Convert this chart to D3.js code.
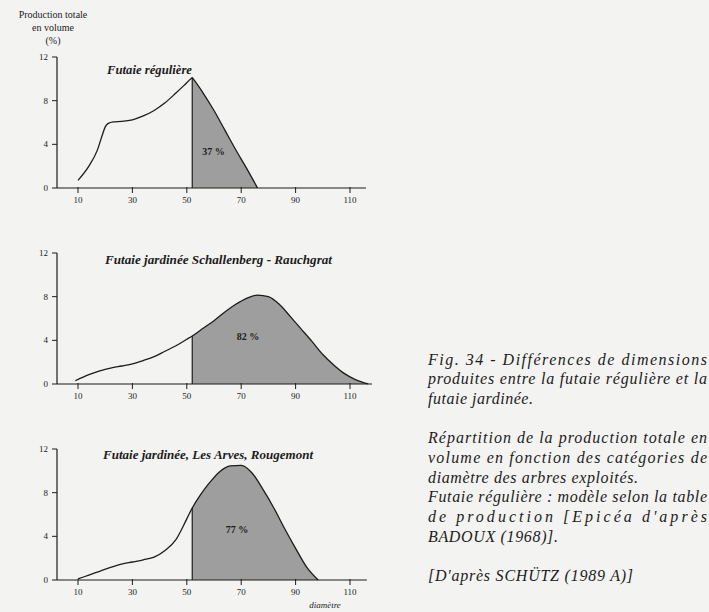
<!DOCTYPE html>
<html>
<head>
<meta charset="utf-8">
<script src="https://cdn.jsdelivr.net/npm/d3@7"></script>
<style>
body { margin: 0; background: #f3f3f1; }
svg text { font-family: "Liberation Serif", "Times New Roman", serif; fill: #1c1c1c; }
</style>
</head>
<body>
<div id="chart"></div>
<script>
// diameter classes (cm) and share of total volume production (%)
var diamReg = [10, 14, 17, 19, 20, 21, 23, 26, 30, 34, 38, 42, 46, 49, 51.5, 52, 52.5, 56, 60, 64, 68, 72, 76];
var prodReg = [0.7, 2.0, 3.4, 4.9, 5.6, 5.9, 6.05, 6.1, 6.25, 6.6, 7.1, 7.8, 8.7, 9.4, 10.0, 10.1, 9.95, 8.7, 7.1, 5.3, 3.5, 1.8, 0];

var diamSch = [9, 14, 18, 22, 26, 30, 34, 38, 42, 46, 50, 52, 56, 60, 64, 68, 72, 76, 80, 84, 88, 92, 96, 100, 104, 108, 112, 116.7];
var prodSch = [0.3, 0.85, 1.2, 1.45, 1.65, 1.85, 2.15, 2.5, 3.0, 3.5, 4.1, 4.4, 5.1, 5.8, 6.6, 7.3, 7.85, 8.15, 8.0, 7.3, 6.2, 5.05, 3.9, 2.7, 1.75, 0.95, 0.4, 0];

var diamArv = [10, 14, 18, 22, 26, 30, 34, 38, 42, 46, 50, 52, 55, 58, 62, 66, 70, 74, 78, 82, 86, 90, 94, 98.3];
var prodArv = [0.1, 0.45, 0.8, 1.15, 1.45, 1.65, 1.85, 2.1, 2.7, 3.7, 5.6, 6.6, 7.8, 8.8, 9.9, 10.45, 10.5, 9.8, 8.3, 6.6, 4.7, 2.9, 1.2, 0];

var titles = ["Futaie régulière", "Futaie jardinée Schallenberg - Rauchgrat", "Futaie jardinée, Les Arves, Rougemont"];
var shares = ["37 %", "82 %", "77 %"];
var cutDiam = 52;
var xTicks = [10, 30, 50, 70, 90, 110];
var yTicks = [0, 4, 8, 12];
var yTitle = ["Production totale", "en volume", "(%)"];
var xTitle = "diamètre";

var captionLines = [
  "Fig. 34 - Différences de dimensions",
  "produites entre la futaie régulière et la",
  "futaie jardinée.",
  "",
  "Répartition de la production totale en",
  "volume en fonction des catégories de",
  "diamètre des arbres exploités.",
  "Futaie régulière : modèle selon la table",
  "de production [Epicéa d'après",
  "BADOUX (1968)].",
  "",
  "[D'après SCHÜTZ (1989 A)]"
];

var series = [
  {d: diamReg, v: prodReg},
  {d: diamSch, v: prodSch},
  {d: diamArv, v: prodArv}
];

// layout
var W = 709, H = 612;
var axisX = 57;
var panelTop = [57, 253, 449];
var panelH = 131;
var axisEnd = [115.9, 118.1, 116.2];
var titlePos = [[107, 74, 85], [105, 264, 227], [103, 459, 210]];
var sharePos = [[59.8, 3.0], [72.5, 4.0], [68.5, 4.3]];

var svg = d3.select("#chart").append("svg")
    .attr("width", W)
    .attr("height", H);

svg.append("rect").attr("width", W).attr("height", H).attr("fill", "#f3f3f1");

var x = d3.scaleLinear().domain([10, 110]).range([78, 350]);

// y axis title
svg.append("g").selectAll("text")
    .data(yTitle)
    .enter().append("text")
    .attr("x", 53)
    .attr("y", function(d, i) { return 18 + i * 13; })
    .attr("text-anchor", "middle")
    .style("font-size", "10px")
    .text(function(d) { return d; });

series.forEach(function(s, p) {
    var y = d3.scaleLinear().domain([0, 12]).range([panelTop[p] + panelH, panelTop[p]]);
    var g = svg.append("g");
    var pts = s.d.map(function(d, i) { return [d, s.v[i]]; });

    var clipId = "clip" + p;
    svg.append("clipPath").attr("id", clipId)
      .append("rect")
        .attr("x", x(cutDiam))
        .attr("y", y(12.5))
        .attr("width", x(125) - x(cutDiam))
        .attr("height", y(0) - y(12.5));

    var area = d3.area()
        .x(function(d) { return x(d[0]); })
        .y0(y(0))
        .y1(function(d) { return y(d[1]); })
        .curve(d3.curveMonotoneX);

    g.append("path")
        .attr("d", area(pts))
        .attr("clip-path", "url(#" + clipId + ")")
        .attr("fill", "#9e9e9e");

    var cutVal = s.v[s.d.indexOf(cutDiam)];
    g.append("line")
        .attr("x1", x(cutDiam)).attr("x2", x(cutDiam))
        .attr("y1", y(0)).attr("y2", y(cutVal))
        .attr("stroke", "#1c1c1c")
        .attr("stroke-width", 1.2);

    var line = d3.line()
        .x(function(d) { return x(d[0]); })
        .y(function(d) { return y(d[1]); })
        .curve(d3.curveMonotoneX);

    g.append("path")
        .attr("d", line(pts))
        .attr("fill", "none")
        .attr("stroke", "#1c1c1c")
        .attr("stroke-width", 1.3);

    // x axis
    var xa = g.append("g").attr("transform", "translate(0," + y(0) + ")");
    xa.append("line")
        .attr("x1", axisX).attr("x2", x(axisEnd[p]))
        .attr("stroke", "#1c1c1c").attr("stroke-width", 1.2);
    var xt = xa.selectAll(".xt").data(xTicks).enter().append("g")
        .attr("transform", function(d) { return "translate(" + x(d) + ",0)"; });
    xt.append("line").attr("y1", -1).attr("y2", 5).attr("stroke", "#1c1c1c").attr("stroke-width", 1);
    xt.append("text").attr("y", 15).attr("text-anchor", "middle")
        .style("font-size", "9px")
        .text(function(d) { return d; });

    // y axis
    var ya = g.append("g").attr("transform", "translate(" + axisX + ",0)");
    ya.append("line")
        .attr("y1", y(0)).attr("y2", y(12))
        .attr("stroke", "#1c1c1c").attr("stroke-width", 1.2);
    var yt = ya.selectAll(".yt").data(yTicks).enter().append("g")
        .attr("transform", function(d) { return "translate(0," + y(d) + ")"; });
    yt.append("line").attr("x1", -5).attr("x2", 0).attr("stroke", "#1c1c1c").attr("stroke-width", 1);
    yt.append("text").attr("x", -9).attr("y", 3).attr("text-anchor", "end")
        .style("font-size", "9px")
        .text(function(d) { return d; });

    // panel title
    g.append("text")
        .attr("x", titlePos[p][0]).attr("y", titlePos[p][1])
        .attr("textLength", titlePos[p][2])
        .attr("lengthAdjust", "spacingAndGlyphs")
        .style("font-size", "12px")
        .style("font-style", "italic")
        .style("font-weight", "bold")
        .text(titles[p]);

    // share of shaded part
    g.append("text")
        .attr("x", x(sharePos[p][0])).attr("y", y(sharePos[p][1]))
        .attr("text-anchor", "middle")
        .style("font-size", "10px")
        .style("font-weight", "bold")
        .text(shares[p]);

    if (p == 2) {
        g.append("text")
            .attr("x", 325).attr("y", 608)
            .attr("text-anchor", "middle")
            .style("font-size", "9px")
            .style("font-style", "italic")
            .text(xTitle);
    }
});

// caption, justified like the printed page
var capW = [279, 279, 105, 0, 279, 279, 210, 279, 279, 130, 0, 205];
svg.append("g").selectAll("text")
    .data(captionLines)
    .enter().filter(function(d) { return d != ""; })
    .append("text")
    .attr("x", 428)
    .attr("y", function(d) { return 364.5 + captionLines.indexOf(d) * 19.7; })
    .attr("textLength", function(d) { return capW[captionLines.indexOf(d)]; })
    .attr("lengthAdjust", "spacing")
    .style("font-size", "16px")
    .style("font-style", "italic")
    .text(function(d) { return d; });
</script>
</body>
</html>
